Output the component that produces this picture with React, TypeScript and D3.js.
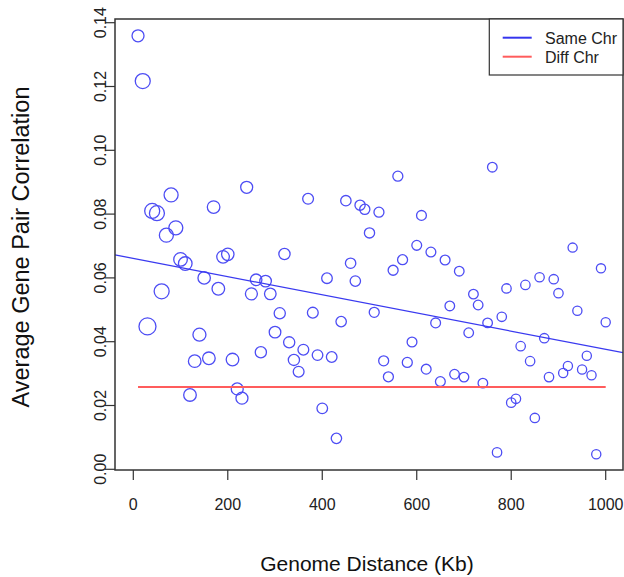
import React from "react";
import * as d3 from "d3";

// ---- data ----
const distances = [
  10, 20, 30, 40, 50, 60, 70, 80, 90, 100,
  110, 120, 130, 140, 150, 160, 170, 180, 190, 200,
  210, 220, 230, 240, 250, 260, 270, 280, 290, 300,
  310, 320, 330, 340, 350, 360, 370, 380, 390, 400,
  410, 420, 430, 440, 450, 460, 470, 480, 490, 500,
  510, 520, 530, 540, 550, 560, 570, 580, 590, 600,
  610, 620, 630, 640, 650, 660, 670, 680, 690, 700,
  710, 720, 730, 740, 750, 760, 770, 780, 790, 800,
  810, 820, 830, 840, 850, 860, 870, 880, 890, 900,
  910, 920, 930, 940, 950, 960, 970, 980, 990, 1000,
];

const correlations = [
  0.1359, 0.1217, 0.0448, 0.0810, 0.0803, 0.0558, 0.0734, 0.0860, 0.0757, 0.0658,
  0.0645, 0.0233, 0.0339, 0.0422, 0.0600, 0.0348, 0.0822, 0.0566, 0.0666, 0.0674,
  0.0344, 0.0252, 0.0223, 0.0884, 0.0550, 0.0594, 0.0367, 0.0590, 0.0550, 0.0430,
  0.0489, 0.0675, 0.0398, 0.0343, 0.0306, 0.0375, 0.0848, 0.0491, 0.0358, 0.0191,
  0.0599, 0.0352, 0.0097, 0.0463, 0.0842, 0.0646, 0.0590, 0.0828, 0.0815, 0.0741,
  0.0492, 0.0806, 0.0340, 0.0290, 0.0624, 0.0919, 0.0657, 0.0335, 0.0399, 0.0702,
  0.0796, 0.0314, 0.0681, 0.0459, 0.0275, 0.0656, 0.0512, 0.0298, 0.0621, 0.0289,
  0.0428, 0.0549, 0.0515, 0.0270, 0.0459, 0.0947, 0.0053, 0.0478, 0.0567, 0.0209,
  0.0221, 0.0386, 0.0578, 0.0339, 0.0161, 0.0602, 0.0411, 0.0289, 0.0596, 0.0552,
  0.0302, 0.0324, 0.0695, 0.0497, 0.0313, 0.0356, 0.0295, 0.0047, 0.0630, 0.0461,
];

// relative marker size (read from circle diameters)
const markerSizes = [
  6.0, 7.5, 8.5, 7.5, 7.5, 7.5, 7.0, 7.0, 7.0, 6.8,
  6.8, 6.3, 6.3, 6.5, 6.2, 6.3, 6.3, 6.3, 6.3, 6.2,
  6.3, 6.0, 6.0, 6.0, 6.0, 5.8, 5.6, 5.8, 5.8, 5.8,
  5.6, 5.6, 5.6, 5.6, 5.4, 5.4, 5.4, 5.4, 5.3, 5.3,
  5.3, 5.3, 5.2, 5.2, 5.2, 5.2, 5.2, 5.1, 5.1, 5.1,
  5.0, 5.0, 5.0, 5.0, 5.0, 5.0, 5.0, 5.0, 4.9, 4.9,
  4.9, 4.9, 4.9, 4.9, 4.9, 4.9, 4.8, 4.8, 4.8, 4.8,
  4.8, 4.8, 4.8, 4.8, 4.8, 4.8, 4.7, 4.7, 4.7, 4.7,
  4.7, 4.7, 4.7, 4.7, 4.7, 4.7, 4.7, 4.7, 4.7, 4.7,
  4.6, 4.6, 4.6, 4.6, 4.6, 4.6, 4.6, 4.6, 4.6, 4.6,
];

const xTicks = [0, 200, 400, 600, 800, 1000];
const yTicks = [0, 0.02, 0.04, 0.06, 0.08, 0.1, 0.12, 0.14];

const sameChrIntercept = 0.0661;
const sameChrSlope = -0.0000285;
const diffChrValue = 0.0258;
const diffChrRange = [10, 1000];

const legendLabels = ["Same Chr", "Diff Chr"];

export default function App() {
  const W = 624;
  const H = 577;
  const frame = { left: 115, right: 623, top: 19, bottom: 470 };

  const x = d3.scaleLinear().domain([0, 1000]).range([133.3, 605.7]);
  const y = d3.scaleLinear().domain([0, 0.14]).range([469.3, 22.7]);

  const font = "'Liberation Sans', Arial, Helvetica, sans-serif";
  const blue = "#4d4df4";

  const xl = x.invert(frame.left);
  const xr = x.invert(frame.right);
  const fitLine = d3.line<number>()
    .x((d) => x(d))
    .y((d) => y(sameChrIntercept + sameChrSlope * d));

  const diffLine = d3.line<number>().x((d) => x(d)).y(() => y(diffChrValue));

  const legendColors = ["#3535ee", "#ff5c5c"];

  return (
    <svg
      width={W}
      height={H}
      style={{ position: "absolute", left: 0, top: 0, display: "block", background: "#fff" }}
      fontFamily={font}
    >
      <rect x={0} y={0} width={W} height={H} fill="#fff" />
      {/* points */}
      <g>
        {distances.map((d, i) => (
          <circle
            key={i}
            cx={x(d)}
            cy={y(correlations[i])}
            r={markerSizes[i]}
            fill="none"
            stroke={blue}
            strokeWidth={1.3}
          />
        ))}
      </g>
      {/* regression line */}
      <path d={fitLine([xl, xr]) || ""} stroke="#3a3af0" strokeWidth={1.3} fill="none" />
      {/* diff chr line */}
      <path d={diffLine(diffChrRange) || ""} stroke="#ff5c5c" strokeWidth={2} fill="none" />

      {/* frame */}
      <rect
        x={frame.left}
        y={frame.top}
        width={frame.right - frame.left}
        height={frame.bottom - frame.top}
        fill="none"
        stroke="#333"
        strokeWidth={1.5}
      />

      {/* y axis */}
      <g>
        {yTicks.map((t) => (
          <g key={t}>
            <line x1={105} x2={frame.left} y1={y(t)} y2={y(t)} stroke="#333" strokeWidth={1.2} />
            <text
              transform={`translate(106,${y(t)}) rotate(-90)`}
              textAnchor="middle"
              fontSize={16}
              fill="#222"
            >
              {t.toFixed(2)}
            </text>
          </g>
        ))}
      </g>
      {/* x axis */}
      <g>
        {xTicks.map((t) => (
          <g key={t}>
            <line x1={x(t)} x2={x(t)} y1={frame.bottom} y2={480} stroke="#333" strokeWidth={1.2} />
            <text x={x(t)} y={510} textAnchor="middle" fontSize={16} fill="#222">
              {t}
            </text>
          </g>
        ))}
      </g>

      {/* axis titles */}
      <text x={367} y={571} textAnchor="middle" fontSize={21} fill="#111">
        Genome Distance (Kb)
      </text>
      <text
        transform={`translate(29,247) rotate(-90)`}
        textAnchor="middle"
        fontSize={23.5}
        fill="#111"
      >
        Average Gene Pair Correlation
      </text>

      {/* legend */}
      <g>
        <rect x={489.3} y={frame.top} width={frame.right - 489.3} height={56} fill="#fff" stroke="#333" strokeWidth={1.2} />
        {legendLabels.map((lab, i) => (
          <g key={lab}>
            <line
              x1={502.7}
              x2={531.7}
              y1={37.7 + i * 19}
              y2={37.7 + i * 19}
              stroke={legendColors[i]}
              strokeWidth={2}
            />
            <text x={545} y={43.5 + i * 19} fontSize={16} fill="#222">
              {lab}
            </text>
          </g>
        ))}
      </g>
    </svg>
  );
}
